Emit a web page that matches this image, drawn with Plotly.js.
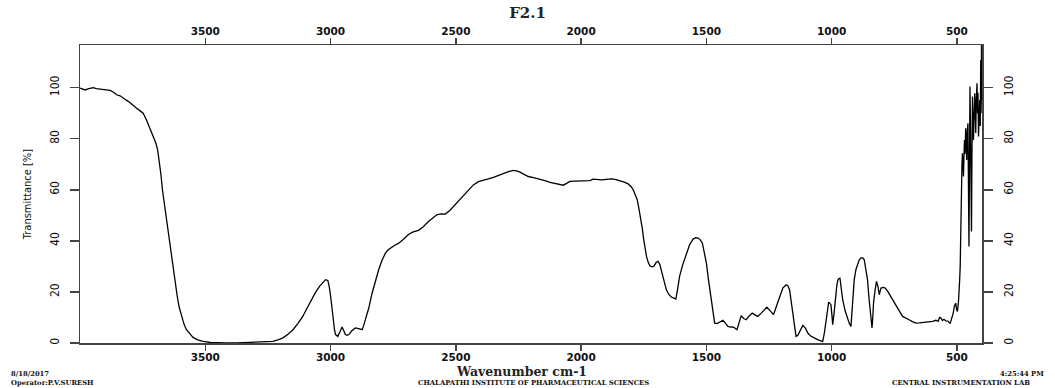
<!DOCTYPE html>
<html>
<head>
<meta charset="utf-8">
<script src="https://cdn.plot.ly/plotly-3.0.1.min.js"></script>
<style>
  html, body { margin: 0; padding: 0; background: #fff; }
  #chart { width: 1055px; height: 388px; }
</style>
</head>
<body>
<div id="chart"></div>
<script>
// Wavenumber (cm-1)
const wavenumber = [
  4000,3990,3980,3965,3947,3935,3920,3900,3880,3866,3854,3840,3827,3815,3801,3788,3774,3760,3748,3735,
  3725,3715,3706,3697,3690,3684,3677,3671,3664,3657,3650,3644,3636,3628,3620,3612,3604,3595,3585,3575,
  3562,3549,3530,3509,3480,3456,3420,3376,3340,3296,3260,3230,3210,3190,3170,3150,3130,3111,3095,3077,
  3060,3044,3030,3020,3011,3005,3000,2995,2990,2984,2980,2971,2962,2954,2948,2941,2934,2927,2915,2901,
  2888,2874,2868,2861,2848,2834,2821,2808,2795,2781,2770,2761,2745,2728,2710,2688,2670,2649,2630,2609,
  2590,2576,2560,2542,2525,2509,2490,2469,2450,2430,2410,2390,2370,2350,2330,2310,2290,2270,2257,2244,
  2228,2211,2190,2164,2145,2124,2100,2071,2058,2045,2025,2005,1978,1965,1952,1935,1918,1900,1879,1860,
  1845,1828,1812,1800,1792,1784,1776,1770,1763,1756,1750,1745,1739,1732,1726,1718,1710,1700,1693,1686,
  1680,1670,1660,1650,1640,1630,1622,1615,1607,1595,1580,1567,1553,1543,1533,1525,1516,1508,1500,1492,
  1484,1475,1467,1457,1447,1434,1424,1414,1404,1394,1385,1378,1370,1361,1351,1341,1330,1317,1306,1295,
  1278,1259,1245,1232,1220,1208,1195,1182,1175,1168,1160,1155,1148,1142,1135,1131,1122,1115,1105,1095,
  1085,1076,1066,1056,1046,1036,1029,1022,1016,1012,1007,1003,999,996,990,985,980,976,972,967,
  962,956,946,936,929,923,917,910,903,896,890,883,876,870,864,857,851,846,842,839,
  836,833,827,821,815,810,806,803,795,786,775,764,752,741,729,717,704,691,678,664,
  650,637,624,610,597,584,575,569,564,558,552,545,536,527,520,515,510,505,501,498,
  494,491,489,487,485,482,480,478,476,474,472,470,468,465,463,461,459,456,454,452,
  450,448,446,444,442,440,438,436,434,432,429,427,425,423,420,418,416,414,412,409,
  407,405,403,402,401,400
];
// Transmittance (%)
const transmittance = [
  99.8,99.3,99.1,99.6,100,99.6,99.4,99.2,98.9,98.2,97.2,96.8,95.8,95.1,94.2,93.0,91.9,90.9,90.0,87.4,
  85.0,82.8,80.6,78.2,75.5,71.7,66.0,60.0,55.0,49.6,44.5,39.1,33.5,28.7,23.2,18.3,14.0,10.4,7.4,5.2,
  3.5,2.2,1.2,0.65,0.2,0.05,0.0,0.0,0.1,0.3,0.5,0.65,1.2,2.0,3.4,5.2,7.7,10.4,13.4,17.0,
  19.8,22.2,23.8,24.8,24.5,22.0,18.5,13.5,9.1,5.0,3.3,2.6,4.5,6.3,5.0,3.3,3.0,3.3,4.8,5.9,
  5.6,5.2,6.8,9.1,13.5,19.6,24.3,28.7,32.3,35.2,36.5,37.2,38.2,39.1,40.5,42.6,43.5,44.1,45.5,47.6,
  49.2,50.2,50.6,50.5,51.8,53.5,55.2,57.4,59.6,61.9,63.2,63.9,64.3,64.9,65.7,66.5,67.1,67.6,67.4,66.9,
  66.0,65.2,64.8,64.2,63.6,62.9,62.4,61.8,62.5,63.3,63.4,63.5,63.4,63.6,64.2,64.0,63.9,64.1,64.3,64.0,
  63.6,63.0,62.3,61.2,60.0,58.2,56.1,53.0,49.6,45.0,40.4,37.0,33.9,31.5,30.3,29.8,30.0,31.6,32.0,30.8,
  28.7,24.5,20.9,19.0,18.0,17.6,17.2,21.0,26.1,30.5,35.2,38.5,40.7,41.2,41.1,40.5,39.1,35.8,31.3,25.0,
  19.6,13.0,7.8,7.6,8.1,8.9,7.8,6.5,6.2,6.3,5.8,5.2,7.8,10.7,9.6,9.1,10.5,11.7,11.0,10.4,
  12.0,14.0,12.6,11.1,14.5,18.3,21.5,22.8,22.4,20.9,16.0,11.7,6.5,2.6,3.0,3.9,5.8,6.9,5.8,3.9,
  2.8,2.2,1.8,1.3,0.8,0.5,4.0,9.1,13.5,16.0,15.5,15.0,11.0,7.2,12.0,18.3,22.0,24.5,25.2,25.4,
  22.0,17.0,12.5,9.1,7.5,6.5,15.0,24.8,28.8,31.3,32.6,33.3,33.3,32.6,29.5,24.8,17.5,11.7,7.5,5.9,
  10.0,15.6,20.5,24.1,22.0,18.9,20.5,21.5,21.8,21.5,20.0,18.3,16.0,14.3,12.4,10.4,9.6,9.1,8.4,7.8,
  7.9,8.0,8.1,8.2,8.5,8.9,8.5,10.0,9.8,8.8,9.3,8.7,8.6,7.6,9.5,11.7,14.5,15.6,13.0,12.4,
  16.0,19.6,25.0,30,45,63.9,70.0,74.3,68.0,65.2,73.0,79.5,74.0,84.1,78.0,71.7,83.0,86,60.0,37.8,
  70.0,100.4,85.0,60.0,43.7,75.0,96.5,88.0,79.5,90.0,97.8,92.0,82.2,95.0,101.7,90.0,98.0,80.9,88.0,95.2,
  85.0,110.8,95.0,117,100,90
];
const xTickVals = [3500, 3000, 2500, 2000, 1500, 1000, 500];
const yTickVals = [0, 20, 40, 60, 80, 100];
const chartTitle = 'F2.1';
const xTitle = 'Wavenumber cm-1';
const yTitle = 'Transmittance [%]';
const footerDate = '8/18/2017';
const footerOperator = 'Operator:P.V.SURESH';
const footerInstitute = 'CHALAPATHI INSTITUTE OF PHARMACEUTICAL SCIENCES';
const footerTime = '4:25:44 PM';
const footerLab = 'CENTRAL INSTRUMENTATION LAB';

const axisCol = '#444';
const narrow = 'Liberation Sans Narrow, DejaVu Sans Condensed, Liberation Sans, sans-serif';
const xTickFont = {family: 'DejaVu Sans', size: 10.5, weight: 'bold', color: '#111'};
const yTickFont = {family: narrow, size: 12, color: '#111'};
const footFont = {family: 'DejaVu Serif', size: 6.8, weight: 'bold', color: '#111'};

const traces = [
  {x: wavenumber, y: transmittance, type: 'scatter', mode: 'lines',
   line: {color: '#000', width: 1.3}, hoverinfo: 'skip', showlegend: false},
  {x: wavenumber, y: transmittance, type: 'scatter', mode: 'lines', xaxis: 'x2', yaxis: 'y2',
   line: {color: 'rgba(0,0,0,0)', width: 0}, hoverinfo: 'skip', showlegend: false}
];

const xCommon = {
  range: [4000, 400], autorange: false, showline: true, linecolor: axisCol, linewidth: 1.5,
  ticks: 'outside', ticklen: 6, tickwidth: 1.5, tickcolor: axisCol, tickvals: xTickVals,
  showgrid: false, zeroline: false, tickfont: xTickFont, fixedrange: true,
  ticklabelstandoff: -2
};
const yCommon = {
  range: [0, 116.7], autorange: false, showline: true, linecolor: axisCol, linewidth: 1.5,
  ticks: 'outside', ticklen: 9, tickwidth: 1.5, tickcolor: axisCol, tickvals: yTickVals,
  tickangle: -90, showgrid: false, zeroline: false, tickfont: yTickFont, fixedrange: true,
  ticklabelstandoff: 6
};

// paper coordinates of the plot area: x 80..982 px, y 45..343 px
const W = 902, H = 298;
const px = v => (v - 80) / W;
const py = v => (343 - v) / H;

const ann = (text, x, y, xanchor, font) => ({
  text: text, xref: 'paper', yref: 'paper', x: px(x), y: py(y),
  xanchor: xanchor, yanchor: 'middle', showarrow: false, borderpad: 0, font: font
});

const layout = {
  width: 1055, height: 388,
  margin: {l: 80, r: 73, t: 45, b: 45},
  paper_bgcolor: '#fff', plot_bgcolor: '#fff',
  showlegend: false,
  title: {text: chartTitle, x: 0.5, xref: 'container', xanchor: 'center',
          y: 1 - 13 / 388, yref: 'container', yanchor: 'middle',
          font: {family: 'DejaVu Serif', size: 15, weight: 'bold', color: '#222'}},
  xaxis: Object.assign({}, xCommon, {side: 'bottom'}),
  xaxis2: Object.assign({}, xCommon, {side: 'top', overlaying: 'x', anchor: 'y'}),
  yaxis: Object.assign({}, yCommon, {side: 'left',
    title: {text: yTitle, standoff: 14, font: {family: narrow, size: 11, color: '#111'}}}),
  yaxis2: Object.assign({}, yCommon, {side: 'right', overlaying: 'y', anchor: 'x'}),
  annotations: [
    ann(xTitle, 521, 371, 'center', {family: 'DejaVu Serif', size: 12.5, weight: 'bold', color: '#222'}),
    ann(footerDate, 10, 373.5, 'left', footFont),
    ann(footerOperator, 10, 382.5, 'left', footFont),
    ann(footerInstitute, 533, 382.5, 'center', footFont),
    ann(footerTime, 1045, 373.5, 'right', footFont),
    ann(footerLab, 891, 382.5, 'left', footFont)
  ]
};

Plotly.newPlot('chart', traces, layout, {displayModeBar: false, staticPlot: true});
</script>
</body>
</html>
